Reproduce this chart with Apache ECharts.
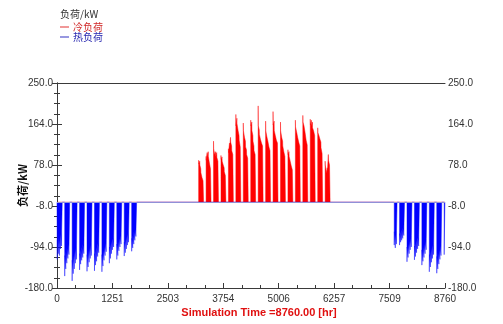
<!DOCTYPE html>
<html><head><meta charset="utf-8">
<script src="https://cdn.jsdelivr.net/npm/echarts@6/dist/echarts.min.js"></script>
<style>html,body{margin:0;padding:0;background:#fff}#c{width:503px;height:324px}</style>
</head><body><div id="c"></div>
<script>
// ---- tick labels ----
const xTickLabels = ['0','1251','2503','3754','5006','6257','7509','8760'];
const yTickLabels = ['-180.0','-94.0','-8.0','78.0','164.0','250.0'];
// ---- data (kW), one entry per working day: [peak, steady] ----
const baseLoad = 0;
const coolWeeks = [19,20,21,22,23,24,25,26,27,28,29,30,31,32,33,34,35,36];
const coolDays = [
  [[88,80],[86,78],[70,62],[60,52],[52,45]],
  [[96,88],[104,95],[106,96],[92,82],[78,70]],
  [[128,112],[112,100],[106,96],[104,94],[96,86]],
  [[98,90],[95,86],[88,78],[72,64],[64,56]],
  [[112,104],[124,114],[136,126],[118,108],[110,100]],
  [[184,160],[176,164],[166,150],[140,130],[126,116]],
  [[166,150],[150,136],[128,116],[110,100],[100,92]],
  [[172,160],[168,150],[140,128],[118,108],[110,100]],
  [[202,160],[152,142],[142,132],[134,124],[128,118]],
  [[170,150],[148,138],[140,128],[126,116],[118,108]],
  [[190,162],[170,150],[150,140],[140,130],[134,124]],
  [[168,150],[146,136],[128,118],[116,106],[104,96]],
  [[110,100],[106,96],[96,86],[86,76],[76,68]],
  [[172,158],[160,148],[146,136],[136,126],[128,118]],
  [[182,168],[172,160],[160,146],[142,130],[130,120]],
  [[174,162],[172,160],[168,156],[160,150],[150,140]],
  [[156,146],[150,140],[144,132],[126,114],[112,102]],
  [[86,78],[66,60],[72,64],[100,88],[86,78]]
];
const heatWeeks = [0,1,2,3,4,5,6,7,8,9,10,45,46,47,48,49,50,51,52];
const heatDays = [
  [[-120,-80],[-108,-74],[-112,-78],[-98,-66],[-92,-60]],
  [[-155,-112],[-140,-104],[-128,-96],[-118,-88],[-110,-82]],
  [[-165,-122],[-150,-112],[-140,-104],[-128,-96],[-120,-90]],
  [[-142,-108],[-130,-100],[-122,-94],[-116,-88],[-108,-82]],
  [[-145,-110],[-136,-102],[-126,-96],[-118,-90],[-112,-84]],
  [[-144,-108],[-132,-100],[-124,-94],[-114,-86],[-106,-80]],
  [[-146,-110],[-134,-102],[-122,-94],[-112,-86],[-104,-78]],
  [[-128,-94],[-118,-88],[-108,-82],[-100,-76],[-94,-70]],
  [[-120,-88],[-112,-82],[-102,-76],[-94,-70],[-88,-64]],
  [[-113,-84],[-106,-78],[-98,-72],[-90,-66],[-84,-60]],
  [[-103,-76],[-96,-70],[-88,-62],[-80,-56],[-72,-50]],
  [null,null,[-90,-62],[-96,-68],[-88,-60]],
  [[-90,-66],[-84,-62],[-80,-58],[-76,-54],[-70,-50]],
  [[-125,-94],[-116,-88],[-108,-82],[-100,-76],[-94,-70]],
  [[-121,-92],[-114,-86],[-106,-80],[-98,-74],[-92,-68]],
  [[-132,-100],[-124,-94],[-116,-88],[-108,-82],[-100,-76]],
  [[-146,-110],[-136,-104],[-126,-96],[-118,-90],[-110,-84]],
  [[-149,-114],[-140,-106],[-130,-100],[-120,-92],[-112,-86]],
  [[-110,-82],null,null,null,null]
];
const HOURS = 8760, DAY_START = 6, PEAK_LEN = 3, DAY_LEN = 24, LAST_LEN = 16;

function buildSeries(weeks, days) {
  const pts = [[0, baseLoad]];
  weeks.forEach((w, i) => {
    const wd = days[i];
    wd.forEach((v, d) => {
      if (!v) return;
      const t = (w * 7 + d) * 24 + DAY_START;
      if (t >= HOURS) return;
      const prevOn = d > 0 && wd[d - 1];
      const nextOn = d < wd.length - 1 && wd[d + 1];
      if (!prevOn) pts.push([t, baseLoad]);
      const e = Math.min(t + (nextOn ? DAY_LEN : LAST_LEN), HOURS);
      pts.push([t, v[0]], [t + PEAK_LEN, v[1]], [e, v[1]]);
      if (!nextOn) pts.push([e, baseLoad]);
    });
  });
  pts.push([HOURS, baseLoad]);
  return pts;
}

const FONT = "'Liberation Sans', Arial, sans-serif";
const CJK = "'Noto Sans CJK SC', 'Liberation Sans', sans-serif";
const axisCol = '#3a3a3a';

const chart = echarts.init(document.getElementById('c'), null, {renderer: 'canvas'});
const yAxisCommon = {
  type: 'value', min: -180, max: 250, interval: 86,
  axisLine: {show: true, lineStyle: {color: axisCol, width: 1}},
  axisTick: {show: true, inside: true, length: 5, lineStyle: {color: axisCol}},
  minorTick: {show: true, splitNumber: 4, length: 3, lineStyle: {color: axisCol}},
  splitLine: {show: false},
  axisLabel: {fontSize: 10, color: '#333', fontFamily: FONT, margin: 4,
    formatter: (v, i) => yTickLabels[i] !== undefined ? yTickLabels[i] : v.toFixed(1)}
};
chart.setOption({
  animation: false,
  backgroundColor: '#fff',
  title: {text: '负荷/kW', left: 55, top: 4,
    textStyle: {fontSize: 10, fontWeight: 'normal', color: '#333', fontFamily: CJK}},
  legend: {
    orient: 'vertical', left: 55, top: 17, itemGap: 0, itemWidth: 9, itemHeight: 1,
    icon: 'rect', selectedMode: false,
    textStyle: {fontSize: 10, fontFamily: CJK, padding: [0, 0, 0, -1]},
    data: [
      {name: '冷负荷', itemStyle: {color: '#e03030', opacity: 1}, textStyle: {color: '#d02828'}},
      {name: '热负荷', itemStyle: {color: '#3030c0', opacity: 1}, textStyle: {color: '#2828b0'}}
    ]
  },
  grid: {left: 57, right: 58, top: 83, bottom: 36, containLabel: false, outerBoundsMode: 'none'},
  xAxis: [{
    type: 'value', min: 0, max: HOURS, interval: HOURS / 7,
    axisLine: {show: true, onZero: false, lineStyle: {color: axisCol}},
    axisTick: {show: true, inside: true, length: 5, lineStyle: {color: axisCol}},
    minorTick: {show: true, splitNumber: 3, length: 3, lineStyle: {color: axisCol}},
    splitLine: {show: false},
    axisLabel: {fontSize: 10, color: '#333', fontFamily: FONT, margin: 6,
      formatter: (v, i) => xTickLabels[i] !== undefined ? xTickLabels[i] : String(Math.round(v))}
  }, {
    type: 'value', min: 0, max: HOURS, position: 'top',
    axisLine: {show: true, onZero: false, lineStyle: {color: axisCol}},
    axisTick: {show: false}, axisLabel: {show: false}, splitLine: {show: false}
  }],
  yAxis: [
    Object.assign({}, yAxisCommon, {position: 'left', name: '负荷/kW', nameLocation: 'middle',
      nameGap: 29, nameMoveOverlap: false,
      nameTextStyle: {fontSize: 11, fontWeight: 'bold', color: '#111', fontFamily: CJK}}),
    Object.assign({}, yAxisCommon, {position: 'right', axisLabel: Object.assign({}, yAxisCommon.axisLabel, {margin: 3})})
  ],
  graphic: [{
    type: 'text', x: 259, y: 313,
    style: {text: 'Simulation Time =8760.00 [hr]', fill: '#e01010', font: "bold 11px 'Liberation Sans', Arial, sans-serif",
      textAlign: 'center', textVerticalAlign: 'middle'}
  }],
  series: [{
    name: '冷负荷', type: 'line', xAxisIndex: 0, yAxisIndex: 0,
    data: buildSeries(coolWeeks, coolDays),
    showSymbol: false, symbol: 'none', sampling: null, silent: true,
    itemStyle: {color: '#ff0000'},
    lineStyle: {width: 1, color: '#ff0000', opacity: 0.45},
    areaStyle: {color: '#ff0000', opacity: 1}
  }, {
    name: '热负荷', type: 'line', xAxisIndex: 0, yAxisIndex: 0,
    data: buildSeries(heatWeeks, heatDays),
    showSymbol: false, symbol: 'none', sampling: null, silent: true,
    itemStyle: {color: '#0000ff'},
    lineStyle: {width: 1, color: '#0000ff', opacity: 0.45},
    areaStyle: {color: '#0000ff', opacity: 1},
    markLine: {silent: true, symbol: ['none', 'none'], label: {show: false}, animation: false,
      lineStyle: {color: '#9090d8', width: 1, type: 'solid', opacity: 1},
      data: [{yAxis: baseLoad}]}
  }]
});
</script></body></html>
